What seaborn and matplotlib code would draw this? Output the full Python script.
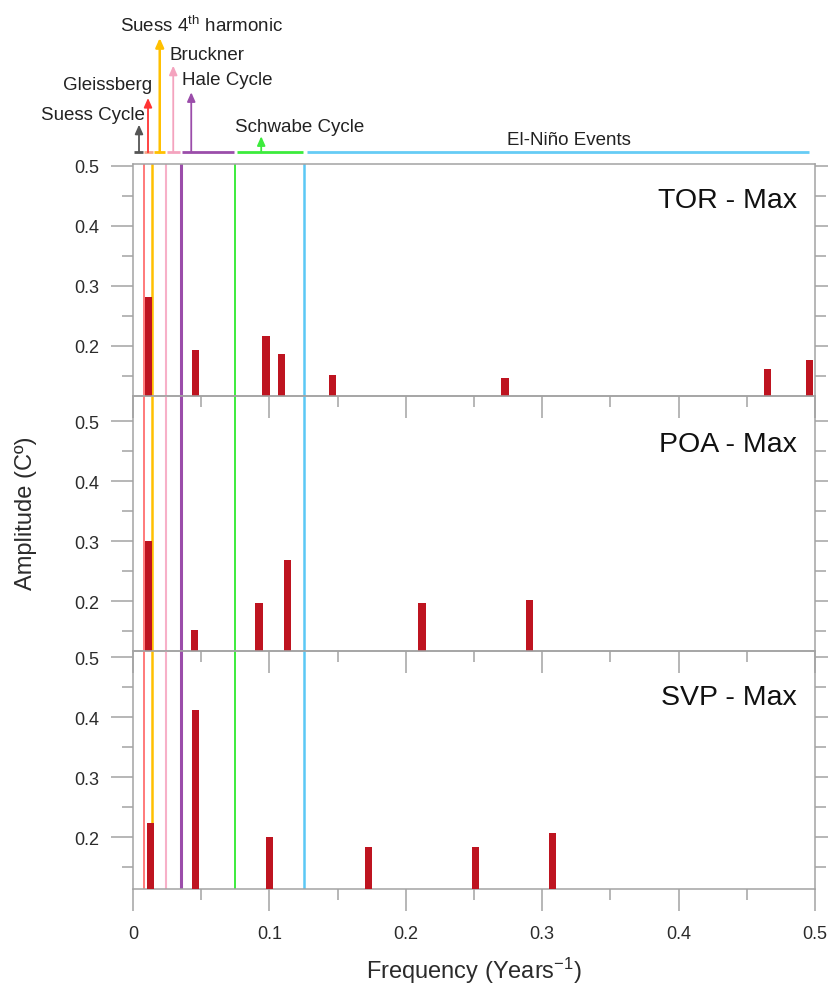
import numpy as np
import matplotlib
matplotlib.use('Agg')
import matplotlib.pyplot as plt
import seaborn as sns

sns.set_theme(style='ticks')
plt.rcParams['font.family'] = ['Liberation Sans', 'DejaVu Sans']
plt.rcParams['mathtext.default'] = 'regular'

# ---- data ----
PANELS = ['TOR - Max', 'POA - Max', 'SVP - Max']

TOR_FREQ = [0.0115, 0.046, 0.0975, 0.109, 0.146, 0.2727, 0.465, 0.496]
TOR_AMP = [0.282, 0.194, 0.217, 0.186, 0.151, 0.146, 0.161, 0.177]

POA_FREQ = [0.0116, 0.0448, 0.0924, 0.1131, 0.2119, 0.2906]
POA_AMP = [0.300, 0.152, 0.197, 0.268, 0.197, 0.202]

SVP_FREQ = [0.013, 0.046, 0.1004, 0.1726, 0.2513, 0.3076]
SVP_AMP = [0.224, 0.412, 0.200, 0.184, 0.184, 0.208]

# reference frequencies drawn through all panels
REF_FREQ = [0.0083, 0.0142, 0.024, 0.035, 0.0748, 0.1256]

# solar / climate cycles shown above the plot
CYCLES = ['Suess Cycle', 'Gleissberg', 'Suess 4$^{th}$ harmonic', 'Bruckner',
          'Hale Cycle', 'Schwabe Cycle', 'El-Niño Events']
CYCLE_LO = [0.0007, 0.0081, 0.0154, 0.0247, 0.0361, 0.076, 0.1273]
CYCLE_HI = [0.0073, 0.0147, 0.0235, 0.0345, 0.074, 0.1244, 0.4956]
CYCLE_PEAK = [0.0044, 0.011, 0.0196, 0.0295, 0.0427, 0.094, None]

XTICKS = [0, 0.1, 0.2, 0.3, 0.4, 0.5]
XTICK_LABELS = ['0', '0.1', '0.2', '0.3', '0.4', '0.5']
YTICKS = [0.2, 0.3, 0.4, 0.5]
YTICK_LABELS = ['0.2', '0.3', '0.4', '0.5']

# ---- styles / layout ----
BAR_COLOR = '#BE1420'
BAR_W = 0.0052
REF_COLORS = ['#FF6464', '#FFC000', '#F7B0C8', '#9B4DAA', '#3CEB3C', '#5BC8F5']
REF_LW = [1.2, 1.8, 1.5, 2.2, 1.4, 1.8]
BAND_COLORS = ['#555555', '#F5A68A', '#FFC000', '#F4A3BE', '#9B4DAA', '#3CEB3C', '#66CCF5']
ARROW_COLORS = ['#555555', '#FF3333', '#FFC000', '#F4A3BE', '#9B4DAA', '#3CEB3C']
ARROW_TOP = [125.7, 99, 39, 66.7, 93.3, 137.3]      # px from figure top
LABEL_X = [-0.0293, -0.019, 0.0506, 0.0543, 0.0689, 0.1224, 0.3196]
LABEL_Y = [115.7, 85.7, 25.7, 56, 81, 127.7, 141]  # px from figure top
BASE_Y = 153.3
GRAY = '#A3A3A3'
TXT = '#2B2B2B'

W, H = 829, 987
L_PX, R_PX = 133, 815
BOUNDS = [(165, 397), (397, 651.7), (651.7, 889.7)]
YLIMS = [(0.1167, 0.503), (0.1175, 0.542), (0.1145, 0.5105)]
LABEL_YPOS = [200.7, 445, 698]

fig = plt.figure(figsize=(W / 100, H / 100), dpi=100)

series = [(TOR_FREQ, TOR_AMP), (POA_FREQ, POA_AMP), (SVP_FREQ, SVP_AMP)]
axes = []
for i, ((freq, amp), (top, bot)) in enumerate(zip(series, BOUNDS)):
    ax = fig.add_axes([L_PX / W, 1 - bot / H, (R_PX - L_PX) / W, (bot - top) / H])
    ax.set_facecolor('none')
    min_gap = np.diff(np.unique(freq)).min()
    sns.barplot(x=freq, y=amp, native_scale=True, width=BAR_W / min_gap,
                color=BAR_COLOR, saturation=1, errorbar=None, linewidth=0,
                ax=ax, zorder=3)
    for f, c, lw in zip(REF_FREQ, REF_COLORS, REF_LW):
        ax.axvline(f, color=c, lw=lw, zorder=2)
    ax.set_xlim(0, 0.5)
    ax.set_ylim(*YLIMS[i])
    ax.set_xticks(XTICKS)
    ax.set_xticks(np.arange(0.05, 0.5, 0.1), minor=True)
    ax.set_yticks(YTICKS)
    ax.set_yticklabels(YTICK_LABELS)
    ax.set_yticks([0.15, 0.25, 0.35, 0.45], minor=True)
    ax.tick_params(which='both', direction='out', color=GRAY, width=1.1,
                   right=True, labelsize=13, labelcolor=TXT)
    ax.tick_params(which='major', length=16)
    ax.tick_params(which='minor', length=8)
    ax.tick_params(axis='y', pad=8)
    ax.tick_params(axis='x', pad=10)
    for s in ax.spines.values():
        s.set_color(GRAY)
        s.set_linewidth(1.1)
    ax.set_xlabel('')
    ax.set_ylabel('')
    if i < 2:
        ax.tick_params(labelbottom=False)
    else:
        ax.set_xticklabels(XTICK_LABELS)
        ax.set_xlabel('Frequency (Years$^{-1}$)', fontsize=17, color=TXT, labelpad=9)
    ax.text((797 - L_PX) / (R_PX - L_PX), (bot - LABEL_YPOS[i]) / (bot - top), PANELS[i],
            transform=ax.transAxes, ha='right', va='center', fontsize=20.5, color='#111111')
    axes.append(ax)

fig.text(26.5 / W, 1 - 590 / H, 'Amplitude (Cº)', rotation=90, ha='center', va='bottom',
         fontsize=17, color=TXT)

# cycle annotations above the top panel, y in pixels from top of figure
at = fig.add_axes([L_PX / W, 1 - 165 / H, (R_PX - L_PX) / W, 165 / H])
at.set_xlim(0, 0.5)
at.set_ylim(165, 0)
at.axis('off')
for k, name in enumerate(CYCLES):
    at.plot([CYCLE_LO[k], CYCLE_HI[k]], [BASE_Y, BASE_Y], color=BAND_COLORS[k],
            lw=2.0, solid_capstyle='butt', clip_on=False)
    if CYCLE_PEAK[k] is not None:
        at.annotate('', xy=(CYCLE_PEAK[k], ARROW_TOP[k]), xytext=(CYCLE_PEAK[k], BASE_Y),
                    arrowprops=dict(arrowstyle='-|>,head_length=0.45,head_width=0.2',
                                    color=ARROW_COLORS[k], lw=1.8 if k == 2 else 1.3,
                                    shrinkA=0, shrinkB=0), annotation_clip=False)
    at.text(LABEL_X[k], LABEL_Y[k], name, ha='center', va='center', fontsize=13.5,
            color='#222222', clip_on=False)

fig.savefig('out.png', dpi=100)
